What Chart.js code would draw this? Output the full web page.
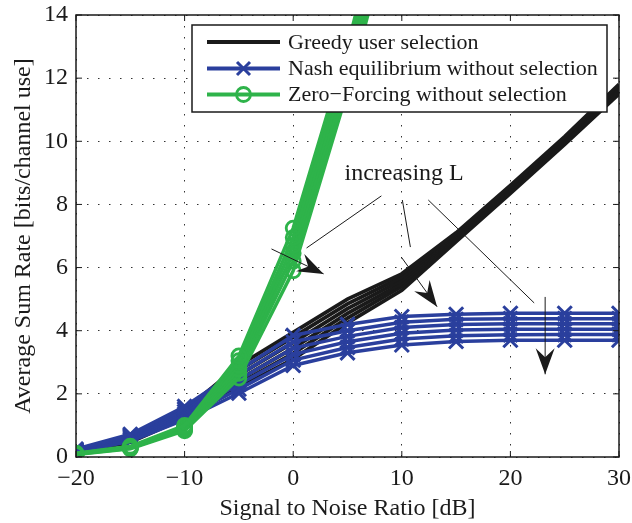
<!DOCTYPE html>
<html>
<head>
<meta charset="utf-8">
<script src="https://cdn.jsdelivr.net/npm/chart.js@4/dist/chart.umd.min.js"></script>
<style>
  html, body { margin: 0; padding: 0; background: #fff; }
  #wrap { width: 632px; height: 523px; }
</style>
</head>
<body>
<div id="wrap"><canvas id="rate-chart"></canvas></div>
<script>
// SNR points [dB]
var snr = [-20, -15, -10, -5, 0, 5, 10, 15, 20, 25, 30];
var snrZF = [-20, -15, -10, -5, 0, 5, 10];

// Greedy user selection, one row per L
var greedy1 = [0.18, 0.62, 1.48, 2.90, 3.95, 5.00, 5.80, 7.10, 8.60, 10.15, 11.80];
var greedy2 = [0.17, 0.59, 1.43, 2.75, 3.80, 4.85, 5.70, 7.05, 8.55, 10.10, 11.75];
var greedy3 = [0.16, 0.56, 1.38, 2.60, 3.62, 4.70, 5.60, 7.00, 8.50, 10.05, 11.70];
var greedy4 = [0.15, 0.53, 1.33, 2.45, 3.45, 4.55, 5.50, 6.95, 8.45, 10.00, 11.60];
var greedy5 = [0.14, 0.50, 1.28, 2.32, 3.28, 4.40, 5.40, 6.90, 8.40, 9.95, 11.55];
var greedy6 = [0.13, 0.47, 1.23, 2.20, 3.10, 4.25, 5.28, 6.82, 8.35, 9.90, 11.50];

// Nash equilibrium without selection
var nash1 = [0.25, 0.72, 1.60, 2.75, 3.85, 4.20, 4.45, 4.52, 4.55, 4.55, 4.55];
var nash2 = [0.23, 0.68, 1.52, 2.60, 3.65, 4.00, 4.27, 4.36, 4.38, 4.38, 4.38];
var nash3 = [0.21, 0.64, 1.44, 2.45, 3.45, 3.82, 4.10, 4.20, 4.22, 4.22, 4.22];
var nash4 = [0.19, 0.60, 1.36, 2.30, 3.25, 3.65, 3.92, 4.02, 4.05, 4.05, 4.05];
var nash5 = [0.17, 0.55, 1.28, 2.15, 3.07, 3.47, 3.74, 3.84, 3.87, 3.88, 3.88];
var nash6 = [0.15, 0.50, 1.18, 2.02, 2.90, 3.30, 3.55, 3.66, 3.70, 3.70, 3.70];

// Zero-Forcing without selection
var zf1 = [0.12, 0.34, 1.00, 3.20, 7.25, 13.0, 19.8];
var zf2 = [0.11, 0.32, 0.96, 3.05, 6.95, 12.7, 19.5];
var zf3 = [0.10, 0.30, 0.92, 2.90, 6.70, 12.4, 19.1];
var zf4 = [0.10, 0.29, 0.89, 2.78, 6.45, 12.1, 18.8];
var zf5 = [0.09, 0.28, 0.86, 2.65, 6.20, 11.85, 18.4];
var zf6 = [0.08, 0.26, 0.83, 2.50, 5.90, 11.6, 18.0];

var legendLabels = ['Greedy user selection', 'Nash equilibrium without selection', 'Zero\u2212Forcing without selection'];
var noteText = 'increasing L';

var BLACK = '#1a1a1a';
var BLUE = '#2a3f9d';
var GREEN = '#2eb34a';
var FONT = '"Liberation Serif", "Times New Roman", serif';

function pts(xs, ys) {
    return ys.map(function(y, i) { return {x: xs[i], y: y}; });
}

var datasets = [];
[greedy1, greedy2, greedy3, greedy4, greedy5, greedy6].forEach(function(s) {
    datasets.push({
        label: legendLabels[0], data: pts(snr, s), order: 3,
        borderColor: BLACK, borderWidth: 3.8, pointRadius: 0, tension: 0
    });
});
[nash1, nash2, nash3, nash4, nash5, nash6].forEach(function(s) {
    datasets.push({
        label: legendLabels[1], data: pts(snr, s), order: 2,
        borderColor: BLUE, borderWidth: 3.5, tension: 0,
        pointStyle: 'crossRot', pointRadius: 10, pointBorderWidth: 3,
        pointBorderColor: BLUE, pointBackgroundColor: BLUE
    });
});
[zf1, zf2, zf3, zf4, zf5, zf6].forEach(function(s) {
    datasets.push({
        label: legendLabels[2], data: pts(snrZF, s), order: 1,
        borderColor: GREEN, borderWidth: 3.5, tension: 0,
        pointStyle: 'circle', pointRadius: 7, pointBorderWidth: 2.8,
        pointBorderColor: GREEN, pointBackgroundColor: 'rgba(0,0,0,0)'
    });
});

// annotation segments in data units: [x0, y0, x1, y1, withHead]
var notes = [
    [-2.0, 6.59, 2.80, 5.80, true],
    [8.12, 8.27, 1.23, 6.62, false],
    [9.96, 6.33, 13.25, 4.76, true],
    [10.05, 8.14, 10.79, 6.65, false],
    [23.2, 5.07, 23.2, 2.62, true],
    [12.44, 8.14, 22.19, 4.88, false]
];
var notePos = [4.72, 8.77];

function arrowHead(ctx, x0, y0, x1, y1) {
    var a = Math.atan2(y1 - y0, x1 - x0);
    var len = 26, half = 9.5, back = 17;
    ctx.save();
    ctx.translate(x1, y1);
    ctx.rotate(a);
    ctx.beginPath();
    ctx.moveTo(0, 0);
    ctx.lineTo(-len, -half);
    ctx.lineTo(-back, 0);
    ctx.lineTo(-len, half);
    ctx.closePath();
    ctx.fillStyle = BLACK;
    ctx.fill();
    ctx.restore();
}

var decorations = {
    id: 'decorations',
    afterDatasetsDraw: function(chart) {
        var ctx = chart.ctx;
        var a = chart.chartArea;
        var xs = chart.scales.x, ys = chart.scales.y;

        // frame and inward ticks
        ctx.save();
        ctx.strokeStyle = BLACK;
        ctx.lineWidth = 1.5;
        ctx.strokeRect(a.left, a.top, a.right - a.left, a.bottom - a.top);
        ctx.lineWidth = 1;
        ctx.beginPath();
        xs.ticks.forEach(function(t) {
            var px = xs.getPixelForValue(t.value);
            ctx.moveTo(px, a.bottom); ctx.lineTo(px, a.bottom - 6);
            ctx.moveTo(px, a.top); ctx.lineTo(px, a.top + 6);
        });
        ys.ticks.forEach(function(t) {
            var py = ys.getPixelForValue(t.value);
            ctx.moveTo(a.left, py); ctx.lineTo(a.left + 6, py);
            ctx.moveTo(a.right, py); ctx.lineTo(a.right - 6, py);
        });
        ctx.stroke();
        ctx.restore();

        // "increasing L" annotation
        ctx.save();
        ctx.strokeStyle = BLACK;
        ctx.lineWidth = 1;
        notes.forEach(function(n) {
            var x0 = xs.getPixelForValue(n[0]), y0 = ys.getPixelForValue(n[1]);
            var x1 = xs.getPixelForValue(n[2]), y1 = ys.getPixelForValue(n[3]);
            ctx.beginPath();
            ctx.moveTo(x0, y0);
            ctx.lineTo(x1, y1);
            ctx.stroke();
            if (n[4]) arrowHead(ctx, x0, y0, x1, y1);
        });
        ctx.fillStyle = BLACK;
        ctx.font = '24px ' + FONT;
        ctx.textBaseline = 'alphabetic';
        ctx.fillText(noteText, xs.getPixelForValue(notePos[0]), ys.getPixelForValue(notePos[1]));
        ctx.restore();

        // legend
        var bx = a.left + 116, by = a.top + 10, bw = 415, bh = 87;
        ctx.save();
        ctx.fillStyle = '#fff';
        ctx.fillRect(bx, by, bw, bh);
        ctx.strokeStyle = BLACK;
        ctx.lineWidth = 1.5;
        ctx.strokeRect(bx, by, bw, bh);
        var colors = [BLACK, BLUE, GREEN];
        var rows = [by + 17, by + 43.5, by + 69.5];
        ctx.font = '22px ' + FONT;
        ctx.textBaseline = 'middle';
        for (var i = 0; i < 3; i++) {
            var y = rows[i];
            ctx.strokeStyle = colors[i];
            ctx.lineWidth = 3.8;
            ctx.beginPath();
            ctx.moveTo(bx + 15, y);
            ctx.lineTo(bx + 88, y);
            ctx.stroke();
            var cx = bx + 51.5;
            if (i === 1) {
                var d = 6.5;
                ctx.lineWidth = 3;
                ctx.beginPath();
                ctx.moveTo(cx - d, y - d); ctx.lineTo(cx + d, y + d);
                ctx.moveTo(cx - d, y + d); ctx.lineTo(cx + d, y - d);
                ctx.stroke();
            } else if (i === 2) {
                ctx.lineWidth = 2.8;
                ctx.beginPath();
                ctx.arc(cx, y, 7, 0, Math.PI * 2);
                ctx.stroke();
            }
            ctx.fillStyle = BLACK;
            ctx.fillText(legendLabels[i], bx + 96, y + 1);
        }
        ctx.restore();
    }
};

function minus(v) {
    return v < 0 ? '\u2212' + Math.abs(v) : String(v);
}

function noPad(s) {
    s.paddingLeft = 0; s.paddingRight = 0;
    s.paddingTop = 0; s.paddingBottom = 0;
}

var rate_chart = document.getElementById('rate-chart').getContext('2d');
var myChart = new Chart(rate_chart, {
    type: 'line',
    data: { datasets: datasets },
    options: {
        maintainAspectRatio: false,
        responsive: true,
        animation: false,
        events: [],
        layout: { padding: { left: 0, right: 12, top: 15, bottom: 0 } },
        plugins: {
            legend: { display: false },
            title: { display: false },
            tooltip: { enabled: false }
        },
        scales: {
            x: {
                type: 'linear',
                min: -20, max: 30,
                afterFit: function(s) { s.height = 66; noPad(s); },
                ticks: {
                    stepSize: 10, padding: 7, color: BLACK,
                    font: { family: FONT, size: 24 },
                    maxRotation: 0,
                    callback: minus
                },
                grid: { color: '#333', lineWidth: 1, drawTicks: false },
                border: { display: false, dash: [1.5, 9.5] },
                title: {
                    display: true, text: 'Signal to Noise Ratio [dB]', color: BLACK,
                    font: { family: FONT, size: 24 }, padding: { top: 4, bottom: 0 }
                }
            },
            y: {
                type: 'linear',
                min: 0, max: 14,
                afterFit: function(s) { s.width = 76; noPad(s); },
                ticks: {
                    stepSize: 2, padding: 8, color: BLACK,
                    font: { family: FONT, size: 24 },
                    callback: minus
                },
                grid: { color: '#333', lineWidth: 1, drawTicks: false },
                border: { display: false, dash: [1.5, 9.5] },
                title: {
                    display: true, text: 'Average Sum Rate [bits/channel use]', color: BLACK,
                    font: { family: FONT, size: 24 }, padding: { top: 9, bottom: 0 }
                }
            }
        }
    },
    plugins: [decorations]
});
</script>
</body>
</html>
